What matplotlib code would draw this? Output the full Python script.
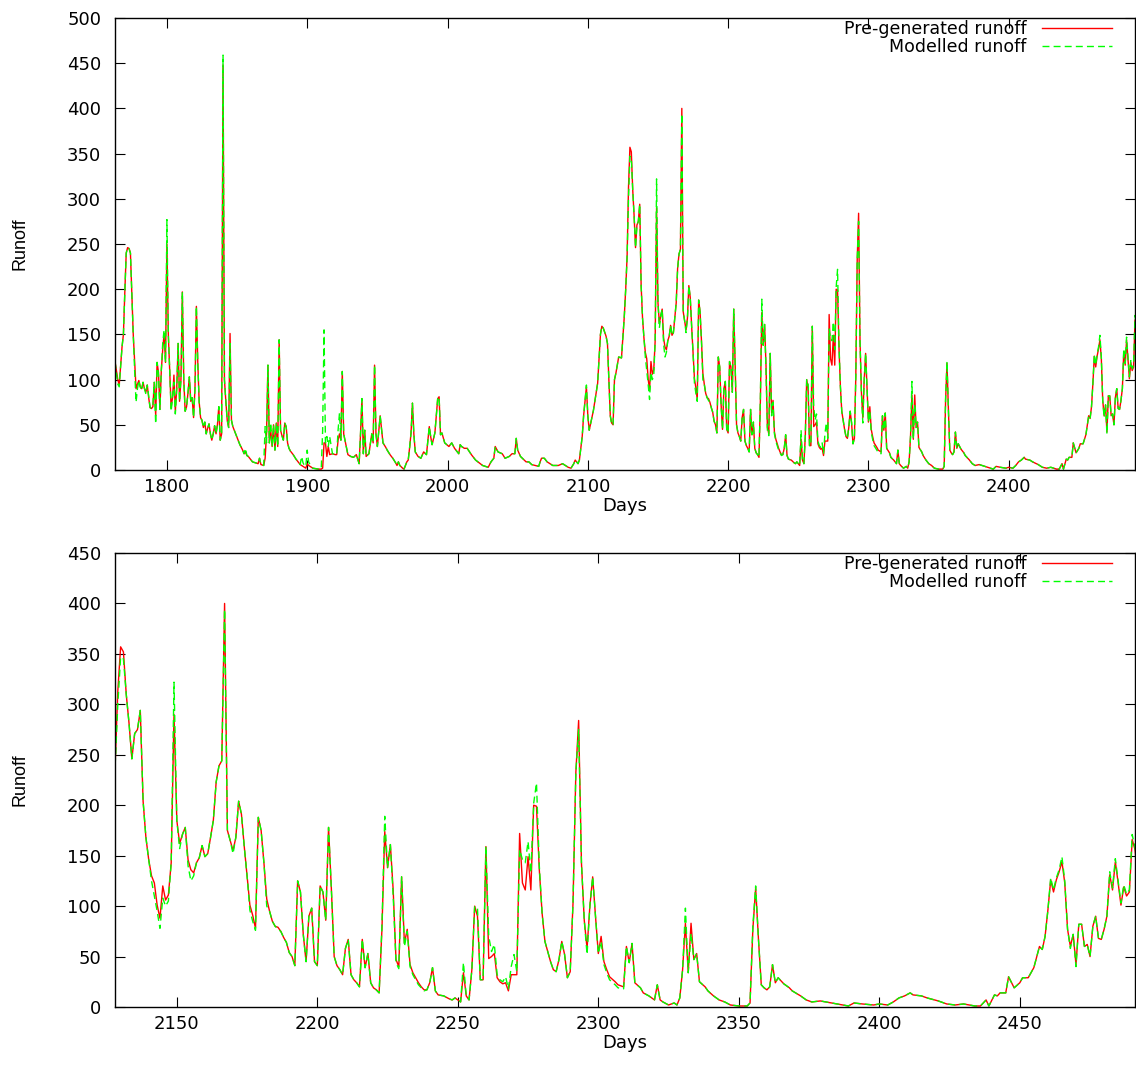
import numpy as np
import matplotlib
matplotlib.use("Agg")
import matplotlib.pyplot as plt

# values (day, pre-generated, modelled)
days = [
    1763, 1765, 1766, 1768, 1769, 1770, 1771, 1772, 1773, 1774,
    1775, 1776, 1777, 1778, 1779, 1780, 1781, 1782, 1783, 1784,
    1785, 1786, 1787, 1788, 1789, 1790, 1791, 1792, 1793, 1794,
    1795, 1796, 1797, 1798, 1799, 1800, 1801, 1802, 1803, 1804,
    1805, 1806, 1807, 1808, 1809, 1810, 1811, 1812, 1813, 1814,
    1815, 1816, 1817, 1818, 1819, 1820, 1821, 1822, 1823, 1824,
    1825, 1826, 1827, 1828, 1829, 1830, 1831, 1832, 1833, 1834,
    1835, 1836, 1837, 1838, 1839, 1840, 1841, 1842, 1843, 1844,
    1845, 1846, 1847, 1848, 1850, 1852, 1854, 1855, 1856, 1857,
    1858, 1860, 1861, 1863, 1865, 1866, 1867, 1869, 1870, 1871,
    1872, 1873, 1874, 1875, 1876, 1877, 1878, 1879, 1880, 1881,
    1882, 1883, 1884, 1885, 1886, 1887, 1888, 1890, 1892, 1894,
    1895, 1896, 1897, 1898, 1899, 1900, 1901, 1902, 1904, 1908,
    1910, 1911, 1912, 1913, 1914, 1915, 1916, 1918, 1920, 1921,
    1922, 1923, 1924, 1925, 1926, 1929, 1931, 1933, 1935, 1937,
    1938, 1939, 1940, 1941, 1942, 1944, 1946, 1947, 1948, 1949,
    1950, 1952, 1953, 1954, 1956, 1957, 1959, 1961, 1963, 1964,
    1965, 1966, 1968, 1969, 1971, 1972, 1973, 1974, 1975, 1976,
    1977, 1979, 1981, 1983, 1985, 1987, 1988, 1989, 1991, 1993,
    1994, 1995, 1996, 1998, 2001, 2003, 2005, 2008, 2009, 2010,
    2012, 2014, 2017, 2020, 2025, 2029, 2031, 2033, 2034, 2036,
    2039, 2041, 2044, 2046, 2048, 2049, 2050, 2052, 2056, 2058,
    2060, 2065, 2066, 2067, 2069, 2071, 2075, 2079, 2082, 2086,
    2088, 2090, 2091, 2093, 2094, 2096, 2097, 2099, 2100, 2101,
    2104, 2107, 2109, 2110, 2111, 2113, 2114, 2115, 2116, 2117,
    2118, 2119, 2120, 2122, 2124, 2126, 2127, 2128, 2129, 2130,
    2131, 2132, 2133, 2134, 2135, 2136, 2137, 2138, 2139, 2140,
    2141, 2142, 2143, 2144, 2145, 2146, 2147, 2148, 2149, 2150,
    2151, 2152, 2153, 2154, 2155, 2156, 2157, 2158, 2159, 2160,
    2161, 2162, 2163, 2164, 2165, 2166, 2167, 2168, 2169, 2170,
    2171, 2172, 2173, 2174, 2175, 2176, 2177, 2178, 2179, 2180,
    2181, 2182, 2183, 2184, 2185, 2186, 2187, 2188, 2189, 2190,
    2191, 2192, 2193, 2194, 2195, 2196, 2197, 2198, 2199, 2200,
    2201, 2202, 2203, 2204, 2205, 2206, 2207, 2208, 2209, 2210,
    2211, 2212, 2213, 2214, 2215, 2216, 2217, 2218, 2219, 2220,
    2221, 2222, 2223, 2224, 2225, 2226, 2227, 2228, 2229, 2230,
    2231, 2232, 2233, 2234, 2235, 2236, 2237, 2238, 2239, 2240,
    2241, 2242, 2243, 2245, 2247, 2248, 2249, 2251, 2252, 2253,
    2254, 2255, 2256, 2257, 2258, 2259, 2260, 2261, 2262, 2263,
    2264, 2265, 2266, 2267, 2268, 2269, 2270, 2271, 2272, 2273,
    2274, 2275, 2276, 2277, 2278, 2279, 2280, 2281, 2282, 2283,
    2284, 2285, 2286, 2287, 2288, 2289, 2290, 2291, 2292, 2293,
    2294, 2295, 2296, 2297, 2298, 2299, 2300, 2301, 2302, 2303,
    2304, 2306, 2307, 2309, 2310, 2311, 2312, 2313, 2315, 2316,
    2318, 2320, 2321, 2322, 2323, 2325, 2327, 2328, 2329, 2330,
    2331, 2332, 2333, 2334, 2335, 2336, 2338, 2339, 2341, 2343,
    2345, 2347, 2350, 2353, 2354, 2355, 2356, 2357, 2358, 2359,
    2360, 2361, 2362, 2363, 2364, 2366, 2368, 2369, 2372, 2374,
    2376, 2379, 2381, 2385, 2389, 2391, 2394, 2398, 2400, 2403,
    2405, 2407, 2409, 2411, 2412, 2415, 2417, 2421, 2424, 2427,
    2430, 2434, 2436, 2438, 2439, 2441, 2442, 2443, 2445, 2446,
    2448, 2450, 2451, 2453, 2454, 2455, 2457, 2458, 2459, 2460,
    2461, 2462, 2463, 2464, 2465, 2466, 2467, 2468, 2469, 2470,
    2471, 2472, 2473, 2474, 2475, 2476, 2477, 2478, 2479, 2480,
    2481, 2482, 2483, 2484, 2485, 2486, 2487, 2488, 2489, 2490,
    2491, 2492,
]

pregen = [
    120, 100, 94, 136, 150, 197, 240, 246, 245, 240,
    195, 150, 120, 90, 95, 99, 92, 90, 97, 90,
    86, 94, 80, 69, 68, 70, 97, 60, 119, 108,
    67, 110, 133, 151, 119, 250, 150, 111, 69, 80,
    105, 65, 90, 140, 76, 100, 197, 101, 65, 70,
    85, 103, 76, 80, 58, 90, 181, 119, 75, 58,
    55, 47, 53, 40, 46, 51, 40, 33, 40, 49,
    40, 50, 70, 33, 40, 448, 100, 76, 55, 47,
    151, 55, 48, 44, 36, 28, 22, 18, 20, 16,
    15, 11, 9, 8, 7, 13, 6, 5, 13, 40,
    116, 30, 44, 26, 50, 22, 52, 26, 144, 44,
    38, 33, 52, 48, 30, 24, 21, 17, 12, 8,
    6, 5, 4, 3, 2, 7, 5, 4, 2, 1,
    1, 2, 30, 30, 15, 26, 17, 18, 17, 17,
    33, 40, 33, 109, 40, 17, 15, 14, 17, 7,
    40, 79, 18, 44, 15, 18, 40, 30, 116, 40,
    26, 60, 45, 30, 25, 22, 17, 13, 8, 5,
    9, 5, 2, 1, 9, 11, 25, 41, 74, 40,
    20, 15, 13, 20, 17, 48, 37, 28, 41, 79,
    81, 39, 41, 30, 26, 30, 24, 18, 28, 26,
    24, 24, 17, 11, 5, 3, 9, 13, 26, 20,
    18, 13, 15, 18, 18, 35, 22, 15, 9, 9,
    6, 4, 9, 13, 13, 9, 5, 5, 7, 3,
    2, 7, 11, 7, 11, 37, 60, 92, 60, 44,
    66, 96, 150, 159, 157, 148, 140, 100, 60, 52,
    50, 100, 107, 125, 124, 170, 200, 236, 313, 357,
    352, 310, 281, 246, 271, 275, 294, 204, 168, 146,
    130, 123, 101, 88, 120, 106, 111, 143, 290, 185,
    162, 171, 178, 146, 136, 133, 143, 148, 160, 149,
    152, 168, 185, 223, 239, 244, 400, 175, 165, 155,
    168, 204, 191, 159, 130, 101, 91, 78, 188, 175,
    143, 107, 95, 85, 80, 79, 75, 69, 64, 54,
    50, 41, 125, 114, 72, 45, 90, 98, 45, 41,
    120, 114, 86, 178, 117, 50, 41, 37, 32, 58,
    67, 32, 27, 24, 20, 67, 39, 53, 24, 19,
    17, 14, 77, 174, 138, 161, 116, 47, 40, 129,
    63, 77, 42, 34, 29, 24, 20, 17, 17, 24,
    39, 16, 12, 11, 8, 7, 9, 5, 34, 11,
    7, 37, 100, 90, 27, 27, 159, 48, 50, 53,
    29, 25, 23, 24, 16, 32, 32, 32, 172, 123,
    116, 149, 116, 200, 199, 136, 93, 65, 55, 45,
    37, 35, 47, 65, 52, 29, 35, 103, 232, 284,
    143, 86, 58, 100, 129, 90, 53, 70, 45, 37,
    30, 25, 22, 20, 60, 44, 63, 24, 19, 14,
    11, 7, 22, 7, 5, 2, 4, 2, 9, 37,
    83, 34, 83, 47, 53, 25, 20, 16, 11, 7,
    5, 2, 1, 1, 4, 77, 118, 67, 22, 19,
    17, 20, 42, 24, 29, 23, 19, 16, 11, 7,
    5, 6, 5, 3, 1, 4, 3, 2, 3, 2,
    5, 9, 11, 14, 12, 11, 9, 6, 3, 2,
    3, 1, 1, 7, 1, 12, 11, 14, 14, 30,
    19, 24, 29, 29, 34, 39, 60, 57, 70, 96,
    126, 114, 126, 134, 144, 123, 77, 60, 72, 42,
    82, 82, 60, 62, 50, 80, 90, 68, 67, 77,
    90, 131, 116, 144, 123, 101, 119, 110, 114, 166,
    156, 129,
]

modelled = [
    120, 95, 92, 136, 150, 197, 240, 246, 245, 240,
    195, 150, 110, 75, 90, 99, 92, 88, 97, 90,
    84, 94, 82, 69, 68, 72, 97, 51, 119, 105,
    67, 110, 140, 155, 119, 277, 150, 111, 65, 80,
    97, 62, 90, 140, 76, 100, 197, 101, 65, 70,
    85, 103, 76, 80, 58, 90, 181, 119, 75, 58,
    55, 47, 53, 40, 46, 51, 40, 33, 40, 49,
    40, 50, 70, 33, 40, 459, 100, 76, 55, 47,
    140, 55, 48, 44, 36, 28, 22, 18, 24, 16,
    15, 11, 9, 8, 7, 13, 6, 5, 48, 30,
    116, 30, 52, 26, 50, 22, 52, 26, 144, 44,
    38, 33, 52, 48, 30, 24, 21, 17, 12, 8,
    6, 15, 8, 5, 4, 22, 9, 6, 2, 1,
    1, 44, 155, 30, 37, 26, 37, 18, 17, 17,
    44, 63, 33, 109, 40, 17, 15, 14, 17, 7,
    40, 79, 18, 44, 15, 18, 40, 30, 116, 40,
    26, 60, 45, 30, 25, 22, 17, 13, 8, 5,
    9, 5, 2, 1, 9, 11, 25, 41, 74, 40,
    20, 15, 13, 20, 17, 48, 37, 28, 41, 79,
    81, 39, 41, 30, 26, 30, 24, 18, 28, 26,
    24, 24, 17, 11, 5, 3, 9, 13, 26, 20,
    18, 13, 15, 18, 18, 35, 22, 15, 9, 9,
    6, 4, 9, 13, 13, 9, 5, 5, 7, 3,
    2, 7, 11, 7, 11, 37, 60, 94, 60, 44,
    66, 96, 150, 159, 157, 148, 140, 100, 60, 50,
    50, 100, 107, 125, 124, 170, 200, 236, 300, 347,
    345, 310, 281, 246, 271, 275, 294, 204, 168, 146,
    125, 110, 95, 78, 108, 100, 105, 143, 322, 185,
    157, 171, 178, 140, 125, 130, 143, 148, 160, 149,
    152, 168, 185, 223, 239, 244, 394, 175, 165, 152,
    168, 204, 191, 159, 130, 96, 85, 76, 188, 175,
    143, 100, 95, 85, 80, 77, 75, 69, 64, 54,
    50, 41, 125, 114, 72, 45, 90, 98, 45, 41,
    120, 114, 86, 178, 117, 50, 41, 37, 32, 58,
    67, 32, 27, 24, 20, 67, 39, 53, 24, 19,
    17, 14, 80, 189, 138, 161, 110, 44, 38, 129,
    60, 75, 40, 32, 27, 22, 19, 16, 17, 24,
    39, 16, 12, 11, 8, 7, 9, 5, 44, 11,
    7, 37, 100, 98, 27, 27, 159, 70, 55, 62,
    32, 27, 25, 30, 18, 40, 52, 35, 156, 146,
    143, 164, 133, 202, 222, 140, 93, 65, 55, 45,
    37, 35, 47, 65, 52, 29, 35, 103, 232, 275,
    143, 86, 52, 100, 129, 90, 53, 65, 42, 34,
    27, 22, 19, 18, 60, 44, 63, 24, 19, 14,
    11, 7, 22, 7, 5, 2, 4, 2, 9, 37,
    98, 34, 73, 47, 53, 25, 20, 16, 11, 7,
    5, 2, 1, 1, 4, 80, 120, 67, 22, 19,
    17, 20, 42, 24, 29, 23, 19, 16, 11, 7,
    5, 6, 5, 3, 1, 4, 3, 2, 3, 2,
    5, 9, 11, 14, 12, 11, 9, 6, 3, 2,
    3, 1, 1, 7, 1, 12, 11, 14, 14, 30,
    19, 24, 29, 29, 34, 39, 60, 57, 70, 96,
    128, 116, 128, 136, 149, 125, 77, 58, 72, 40,
    82, 82, 60, 62, 50, 80, 90, 68, 67, 77,
    90, 134, 118, 147, 125, 103, 121, 112, 116, 171,
    158, 131,
]

assert len(days) == len(pregen) == len(modelled)

plt.rcParams["font.family"] = "DejaVu Sans"
plt.rcParams["font.size"] = 12

W, H = 1136.0, 1066.0
fig = plt.figure(figsize=(W / 100, H / 100), dpi=100)
ax_top = fig.add_axes([115 / W, 1 - 470 / H, 1020 / W, 452 / H])
ax_bot = fig.add_axes([115 / W, 1 - 1007 / H, 1020 / W, 454 / H])

# axes, x range, y max, x tick step, centre of "Runoff" label, "Days" label y (pixels)
panels = [
    (ax_top, (1763, 2490), 500, 100, 244, 506),
    (ax_bot, (2128, 2491), 450, 50, 780, 1043),
]

for ax, xr, ymax, xstep, ylab_y, xlab_y in panels:
    ax.plot(days, pregen, color="#ff0000", lw=1.0, label="Pre-generated runoff")
    ax.plot(days, modelled, color="#00ff00", lw=1.0, ls=(0, (5, 3)),
            label="Modelled runoff")
    ax.set_xlim(xr)
    ax.set_ylim(0, ymax)
    first = int(np.ceil(xr[0] / xstep) * xstep)
    ax.set_xticks(np.arange(first, xr[1], xstep))
    ax.set_yticks(np.arange(0, ymax + 1, 50))
    ax.tick_params(direction="in", length=7, width=0.8, top=True, right=True,
                   labelsize=13, colors="black")
    ax.tick_params(axis="y", pad=10)
    ax.tick_params(axis="x", pad=6)
    for s in ax.spines.values():
        s.set_linewidth(1.0)
    ax.legend(loc="upper right", bbox_to_anchor=(0.977, 0.995), frameon=False,
              markerfirst=False, handlelength=4.0, handletextpad=0.9,
              labelspacing=0.0, borderpad=0, borderaxespad=0, fontsize=12.5)
    fig.text(625 / W, 1 - xlab_y / H, "Days", ha="center", va="center", fontsize=13)
    fig.text(20 / W, 1 - ylab_y / H, "Runoff", ha="center", va="center",
             rotation=90, fontsize=13,
             family=["Liberation Sans Narrow", "Liberation Sans"])

fig.savefig("out.png", dpi=100)
